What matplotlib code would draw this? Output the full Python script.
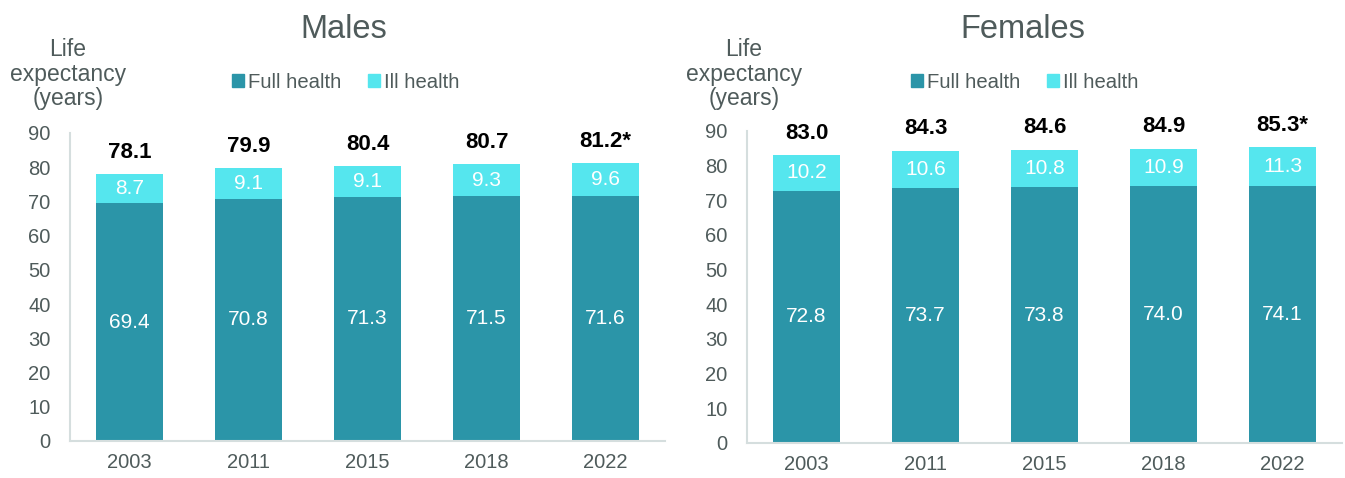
import matplotlib
matplotlib.use("Agg")
import matplotlib.pyplot as plt
from matplotlib.patches import Patch

plt.rcParams['font.family'] = ['Liberation Sans', 'DejaVu Sans']

years = ["2003", "2011", "2015", "2018", "2022"]
male_full = [69.4, 70.8, 71.3, 71.5, 71.6]
male_ill = [8.7, 9.1, 9.1, 9.3, 9.6]
male_total = ["78.1", "79.9", "80.4", "80.7", "81.2*"]
female_full = [72.8, 73.7, 73.8, 74.0, 74.1]
female_ill = [10.2, 10.6, 10.8, 10.9, 11.3]
female_total = ["83.0", "84.3", "84.6", "84.9", "85.3*"]
yticks = [0, 10, 20, 30, 40, 50, 60, 70, 80, 90]

FULL_C = "#2b95a8"
ILL_C = "#55e6ee"
TXT_C = "#4f5b5b"
SPINE_C = "#d5dede"

W, H = 1345, 478
fig = plt.figure(figsize=(W / 100, H / 100), dpi=100)

panels = [
    ("Males", male_full, male_ill, male_total, 70, 133, 441, 344, 68, 346),
    ("Females", female_full, female_ill, female_total, 747, 131, 443, 1023, 744, 1025),
]

for title, full, ill, total, left_px, top_px, bot_px, title_x, ylab_x, leg_x in panels:
    ax = fig.add_axes([left_px / W, 1 - bot_px / H, 595 / W, (bot_px - top_px) / H])
    x = list(range(len(years)))
    ax.bar(x, full, width=0.57, color=FULL_C, zorder=2)
    ax.bar(x, ill, width=0.57, bottom=full, color=ILL_C, zorder=2)
    for i in x:
        ax.text(i, full[i] / 2, f"{full[i]:.1f}", ha="center", va="center",
                color="white", fontsize=15)
        ax.text(i, full[i] + ill[i] / 2, f"{ill[i]:.1f}", ha="center", va="center",
                color="white", fontsize=15)
        ax.text(i, full[i] + ill[i] + 6.3, total[i], ha="center", va="center",
                color="black", fontsize=16, fontweight="bold")
    ax.set_xlim(-0.5, 4.5)
    ax.set_ylim(0, 90)
    ax.set_yticks(yticks)
    ax.set_xticks(x)
    ax.set_xticklabels(years)
    ax.tick_params(axis="both", length=0, labelsize=14.5, colors=TXT_C)
    ax.tick_params(axis="y", pad=14)
    ax.tick_params(axis="x", pad=9)
    for s in ["top", "right"]:
        ax.spines[s].set_visible(False)
    for s in ["left", "bottom"]:
        ax.spines[s].set_color(SPINE_C)
        ax.spines[s].set_linewidth(1.5)

    fig.text(title_x / W, 1 - 30 / H, title, ha="center", va="center",
             fontsize=23.5, color=TXT_C)
    fig.text(ylab_x / W, 1 - 74 / H, "Life\nexpectancy\n(years)",
             ha="center", va="center", fontsize=16.5, color=TXT_C, linespacing=1.08)
    handles = [Patch(color=FULL_C, label="Full health"),
               Patch(color=ILL_C, label="Ill health")]
    fig.legend(handles=handles, loc="center", ncol=2, frameon=False,
               bbox_to_anchor=(leg_x / W, 1 - 82 / H),
               handlelength=0.6, handleheight=0.6, handletextpad=0.2,
               columnspacing=1.3, fontsize=14.6, labelcolor=TXT_C,
               borderpad=0, borderaxespad=0)

fig.savefig("out.png", dpi=100)
